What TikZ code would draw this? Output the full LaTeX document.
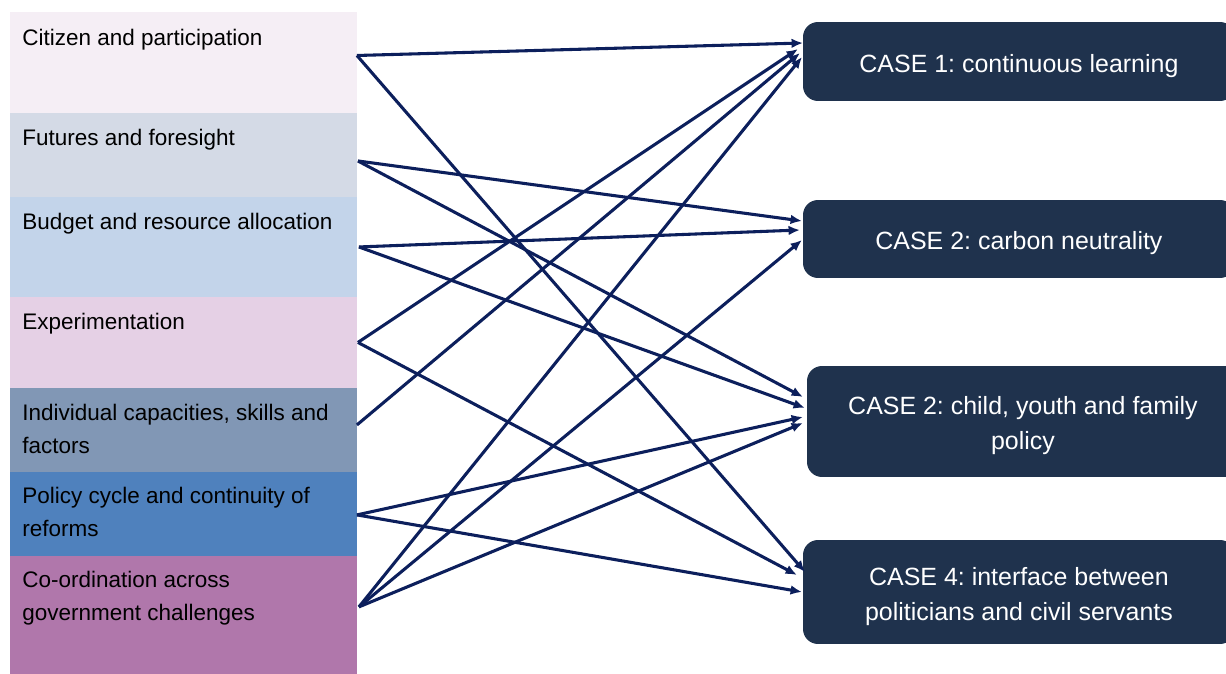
\documentclass[tikz,border=0pt]{standalone}
\usepackage{fontspec}
\setmainfont{Liberation Sans}
\frenchspacing
\usetikzlibrary{calc, arrows.meta}
\definecolor{citcol}{HTML}{F5EEF5}
\definecolor{futcol}{HTML}{D4DAE6}
\definecolor{budcol}{HTML}{C3D4EA}
\definecolor{expcol}{HTML}{E5D0E5}
\definecolor{indcol}{HTML}{8197B5}
\definecolor{polcol}{HTML}{4F81BD}
\definecolor{coocol}{HTML}{B077AB}
\definecolor{casecol}{HTML}{1F324D}
\definecolor{linkcol}{HTML}{0C1F5C}
\tikzstyle{band}=[rectangle, anchor=north west, minimum width=6.94cm, inner sep=0pt, outer sep=0pt]
\tikzstyle{bandtext}=[anchor=north west, align=left, inner sep=0pt, font=\fontsize{12.8}{18.8}\selectfont]
\tikzstyle{case}=[rectangle, rounded corners=0.3cm, fill=casecol, anchor=north west, minimum width=8.64cm, inner sep=0pt, outer sep=0pt]
\tikzstyle{casetext}=[text=white, align=center, inner sep=0pt, font=\fontsize{14.2}{19.9}\selectfont]
\tikzstyle{link}=[->, draw=linkcol, line width=1.75pt]

\begin{document}
\begin{tikzpicture}[x=0.02cm, y=-0.02cm, >={Latex[length=6.5pt,width=5.5pt]}]
  \useasboundingbox (0,0) rectangle (1226,673);
  \clip (0,0) rectangle (1226,673);
  % themes on the left
  \node [band, fill=citcol, minimum height=2.02cm] (cit) at (10,12) {};
  \node [band, fill=futcol, minimum height=1.68cm] (fut) at (cit.south west) {};
  \node [band, fill=budcol, minimum height=2.0cm] (bud) at (fut.south west) {};
  \node [band, fill=expcol, minimum height=1.82cm] (exp) at (bud.south west) {};
  \node [band, fill=indcol, minimum height=1.68cm] (ind) at (exp.south west) {};
  \node [band, fill=polcol, minimum height=1.68cm] (pol) at (ind.south west) {};
  \node [band, fill=coocol, minimum height=2.4cm] (coo) at (pol.south west) {};
  \node [bandtext] (cit-t) at ($(cit.north west)+(12,17)$) {Citizen and participation};
  \node [bandtext] (fut-t) at ($(fut.north west)+(12,16)$) {Futures and foresight};
  \node [bandtext] (bud-t) at ($(bud.north west)+(12,16)$) {Budget and resource allocation};
  \node [bandtext] (exp-t) at ($(exp.north west)+(12,16)$) {Experimentation};
  \node [bandtext] (ind-t) at ($(ind.north west)+(12,16)$) {Individual capacities, skills and\\factors};
  \node [bandtext] (pol-t) at ($(pol.north west)+(12,15)$) {Policy cycle and continuity of\\reforms};
  \node [bandtext] (coo-t) at ($(coo.north west)+(12,15)$) {Co-ordination across\\government challenges};
  % cases on the right
  \node [case, minimum height=1.58cm] (c1) at (803,22) {};
  \node [case, minimum height=1.56cm] (c2) at (803,200) {};
  \node [case, minimum height=2.22cm] (c3) at (807,366) {};
  \node [case, minimum height=2.08cm] (c4) at (803,540) {};
  \node [casetext] (c1-t) at ($(c1)+(0,5)$) {CASE 1: continuous learning};
  \node [casetext] (c2-t) at ($(c2)+(0,4)$) {CASE 2: carbon neutrality};
  \node [casetext] (c3-t) at ($(c3)+(0,4)$) {CASE 2: child, youth and family\\policy};
  \node [casetext] (c4-t) at ($(c4)+(0,5)$) {CASE 4: interface between\\politicians and civil servants};
  % links
  \draw [link] ($(cit.east)+(0,-7)$) -- ($(c1.west)+(0,-18.5)$);
  \draw [link] ($(cit.east)+(0,-7)$) -- ($(c4.west)+(2,-20)$);
  \draw [link] ($(fut.east)+(1,6)$) -- ($(c2.west)+(-1,-18)$);
  \draw [link] ($(fut.east)+(1,6)$) -- ($(c3.west)+(-4,-24.5)$);
  \draw [link] ($(bud.east)+(2,0)$) -- ($(c2.west)+(-3,-9)$);
  \draw [link] ($(bud.east)+(2,0)$) -- ($(c3.west)+(-2,-13.5)$);
  \draw [link] ($(exp.east)+(1,0)$) -- ($(c1.west)+(-5,-12.5)$);
  \draw [link] ($(exp.east)+(1,0)$) -- ($(c4.west)+(-6,-17)$);
  \draw [link] ($(ind.east)+(0,-5)$) -- ($(c1.west)+(-3,-8.5)$);
  \draw [link] ($(pol.east)+(0,1)$) -- ($(c3.west)+(-4,-4.5)$);
  \draw [link] ($(pol.east)+(0,1)$) -- ($(c4.west)+(-1,0)$);
  \draw [link] ($(coo.east)+(2,-9)$) -- ($(c1.west)+(-1,-4.5)$);
  \draw [link] ($(coo.east)+(2,-9)$) -- ($(c2.west)+(-1,1)$);
  \draw [link] ($(coo.east)+(2,-9)$) -- ($(c3.west)+(-4,1.5)$);
\end{tikzpicture}
\end{document}
